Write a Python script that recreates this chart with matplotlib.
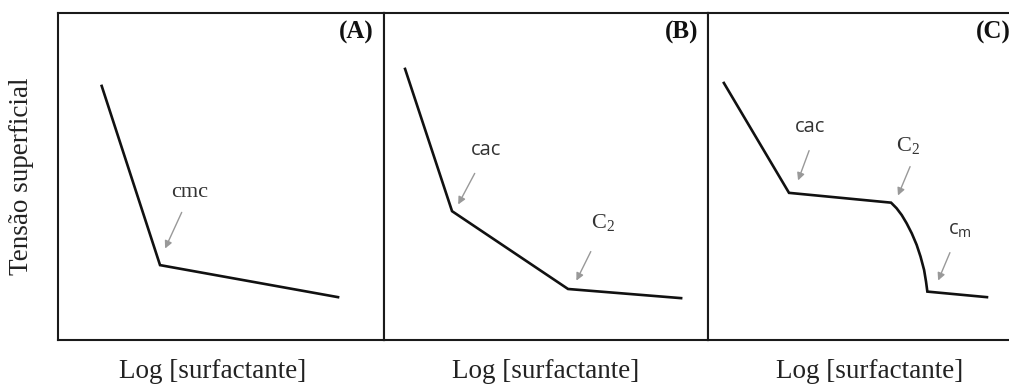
import matplotlib
matplotlib.use('Agg')
import matplotlib.pyplot as plt

# curve points for each panel (relative panel units, 0..1)
xa = [0.134, 0.313, 0.859]
ya = [0.777, 0.229, 0.131]

xb = [0.065, 0.210, 0.568, 0.917]
yb = [0.829, 0.394, 0.156, 0.128]

xc = [0.049, 0.250, 0.565, 0.582, 0.598, 0.613, 0.629, 0.644, 0.656, 0.667, 0.673, 0.677, 0.861]
yc = [0.786, 0.450, 0.420, 0.403, 0.382, 0.357, 0.326, 0.291, 0.255, 0.214, 0.178, 0.148, 0.131]

panel_names = ['(A)', '(B)', '(C)']
xlabel = 'Log [surfactante]'
ylabel = 'Tensão superficial'

# annotations: (text, text x, text y, tail x, tail y, head x, head y, family)
notes_a = [('cmc', 0.405, 0.45, 0.383, 0.398, 0.325, 0.272, 'Liberation Serif')]
notes_b = [('cac', 0.315, 0.581, 0.284, 0.517, 0.225, 0.407, 'Open Sans'),
           ('C$_\\mathregular{2}$', 0.676, 0.358, 0.642, 0.278, 0.590, 0.174, 'Liberation Serif')]
notes_c = [('cac', 0.315, 0.651, 0.315, 0.587, 0.275, 0.480, 'Open Sans'),
           ('C$_\\mathregular{2}$', 0.617, 0.596, 0.627, 0.538, 0.583, 0.434, 'Liberation Serif'),
           ('c$_\\mathregular{m}$', 0.778, 0.336, 0.750, 0.275, 0.707, 0.174, 'Open Sans')]

plt.rcParams['mathtext.default'] = 'regular'

fig = plt.figure(figsize=(10.09, 3.85), dpi=100)
lefts = [58 / 1009, 384 / 1009, 708 / 1009]
widths = [326 / 1009, 324 / 1009, 324 / 1009]
label_x = [0.969, 0.969, 0.933]
curves = [(xa, ya), (xb, yb), (xc, yc)]
notes = [notes_a, notes_b, notes_c]

for i in range(3):
    ax = fig.add_axes([lefts[i], 45 / 385, widths[i], 327 / 385])
    ax.set_xlim(0, 1)
    ax.set_ylim(0, 1)
    ax.set_xticks([])
    ax.set_yticks([])
    for s in ax.spines.values():
        s.set_linewidth(1.5)
        s.set_color('#1a1a1a')
    ax.plot(curves[i][0], curves[i][1], color='#111111', lw=1.9, solid_joinstyle='miter')
    for (t, tx, ty, x0, y0, x1, y1, fam) in notes[i]:
        fs = 16 if fam == 'Liberation Serif' else 14.5
        ax.text(tx, ty, t, ha='center', va='center', fontsize=fs, family=fam, color='#333333')
        ax.annotate('', xy=(x1, y1), xytext=(x0, y0),
                    arrowprops=dict(arrowstyle='-|>', color='#999999', lw=1.0, mutation_scale=11))
    ax.text(label_x[i], 0.939, panel_names[i], ha='right', va='center', fontsize=18,
            fontweight='bold', family='Liberation Serif', color='#111111')
    fig.text(lefts[i] + widths[i] / 2 - (0.008 if i == 0 else 0), 13 / 385, xlabel,
             ha='center', va='center', fontsize=19.5, family='Liberation Serif', color='#222222')

fig.text(22 / 1009, 0.5416, ylabel, rotation=90, ha='center', va='center',
         fontsize=19.5, family='Liberation Serif', color='#222222')

fig.savefig('out.png', dpi=100)
